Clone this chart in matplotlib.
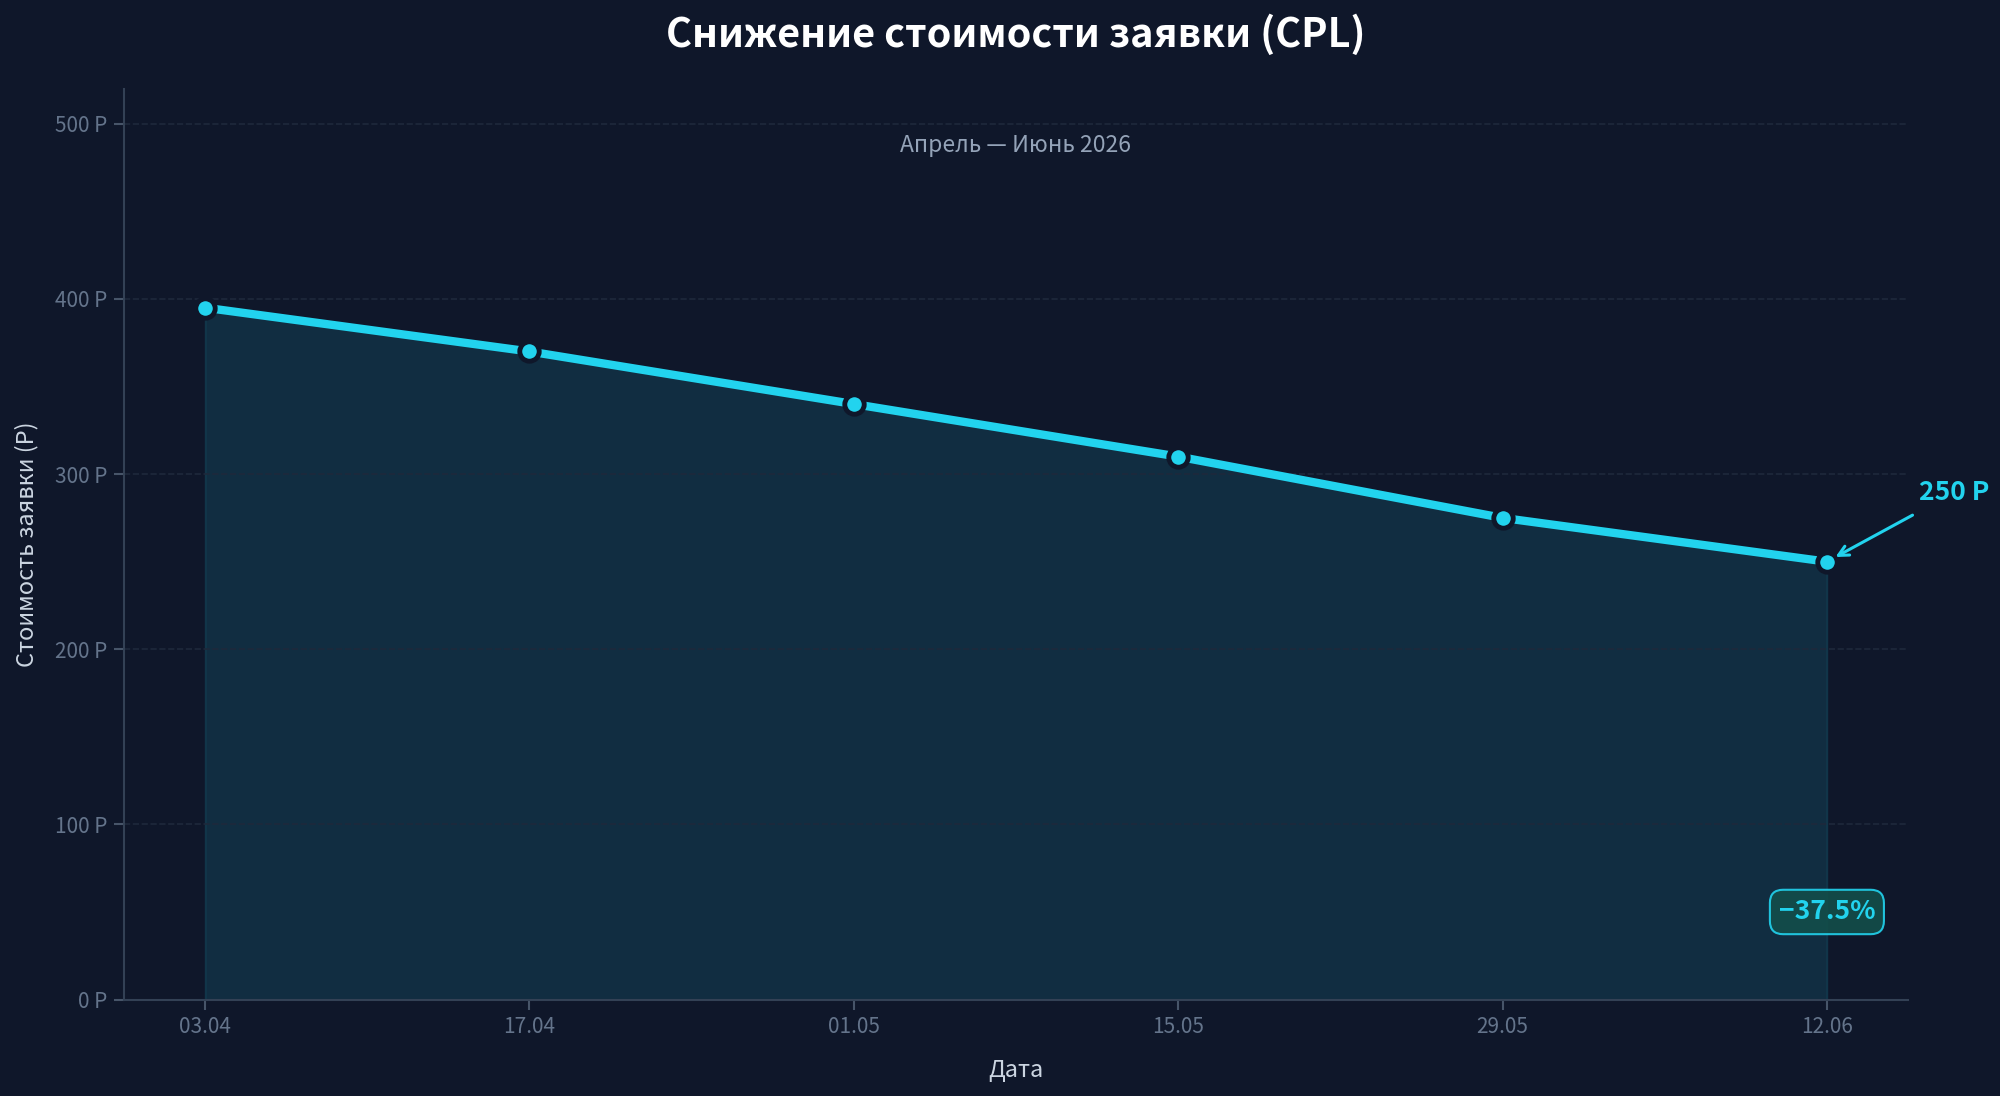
import matplotlib
matplotlib.use("Agg")
import matplotlib.pyplot as plt

# --- data ---
dates = ["03.04", "17.04", "01.05", "15.05", "29.05", "12.06"]
cpl = [395, 370, 340, 310, 275, 250]
y_ticks = [0, 100, 200, 300, 400, 500]
title = "Снижение стоимости заявки (CPL)"
subtitle = "Апрель — Июнь 2026"
change_label = "−37.5%"

BG = "#0f172a"
CYAN = "#22d3ee"
MUTED = "#64748b"
SPINE = "#334155"

plt.rcParams["font.family"] = ["Noto Sans CJK SC", "DejaVu Sans"]

fig = plt.figure(figsize=(20, 10.96), dpi=100, facecolor=BG)
ax = fig.add_axes([0.062, 0.088, 0.892, 0.831], facecolor=BG)

x = list(range(len(dates)))
ax.fill_between(x, cpl, 0, color=CYAN, alpha=0.12, lw=1.2, zorder=1)
ax.plot(x, cpl, color=CYAN, lw=6, solid_capstyle="round", zorder=3,
        marker="o", ms=14, mfc=CYAN, mec=BG, mew=3.5)

ax.set_xlim(-0.25, len(dates) - 0.75)
ax.set_ylim(0, 520)
ax.set_xticks(x)
ax.set_xticklabels(dates)
ax.set_yticks(y_ticks)
ax.set_yticklabels([f"{v} Р" for v in y_ticks])

ax.grid(axis="y", color="#1e293b", ls="--", lw=1.2, zorder=0)
for side in ("top", "right"):
    ax.spines[side].set_visible(False)
for side in ("left", "bottom"):
    ax.spines[side].set_color(SPINE)
    ax.spines[side].set_linewidth(1.5)
ax.tick_params(colors=MUTED, labelsize=15, length=7, width=1.5, pad=5)
ax.tick_params(axis="both", color="#475569")

ax.set_xlabel("Дата", color="#cbd5e1", fontsize=17, labelpad=15)
ax.set_ylabel("Стоимость заявки (Р)", color="#cbd5e1", fontsize=17, labelpad=12)

# title centred over the plot area, not the whole figure
ax.text(0.5, 1.059, title, transform=ax.transAxes, ha="center", va="center",
        color="white", fontsize=28.5, fontweight="bold")
ax.text(0.5, 0.938, subtitle, transform=ax.transAxes, ha="center", va="center",
        color="#94a3b8", fontsize=16.5)

ax.annotate(f"{cpl[-1]} Р", xy=(x[-1], cpl[-1]), xytext=(92, 50),
            textcoords="offset points", ha="center", va="center",
            color=CYAN, fontsize=19, fontweight="bold",
            arrowprops=dict(arrowstyle="->", color=CYAN, lw=2.2,
                            shrinkA=10, shrinkB=7, mutation_scale=18),
            annotation_clip=False, zorder=5)

ax.text(x[-1], 50, change_label, ha="center", va="center", color=CYAN,
        fontsize=19, fontweight="bold", zorder=5,
        bbox=dict(boxstyle="round,pad=0.33,rounding_size=0.5",
                  fc="#134e4a", ec=CYAN, lw=1.5, alpha=0.9))

fig.savefig("out.png", facecolor=BG)
